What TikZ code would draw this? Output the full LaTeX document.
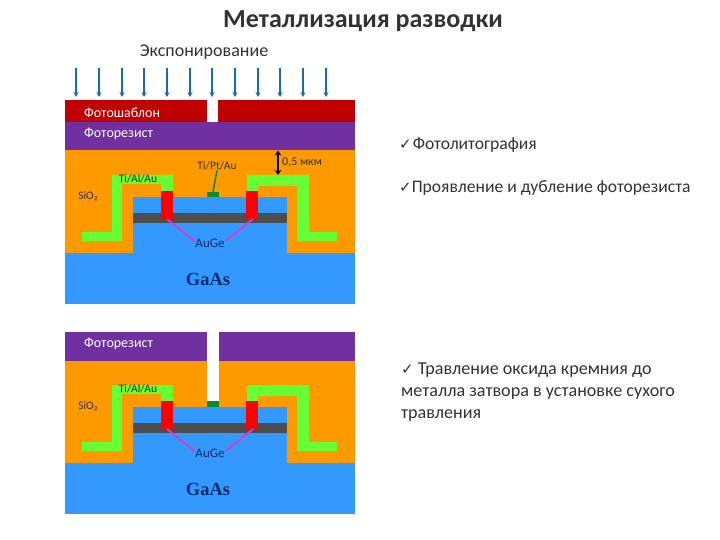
\documentclass[tikz,border=0pt]{standalone}
\usepackage{fontspec}
\usetikzlibrary{arrows.meta}
\setmainfont{Carlito}
\newfontfamily\chkfont{DejaVu Sans}
\newfontfamily\gafont{Liberation Serif}
\definecolor{oxide}{HTML}{FF9900}
\definecolor{gaas}{HTML}{3399FF}
\definecolor{resist}{HTML}{7030A0}
\definecolor{maskred}{HTML}{C00000}
\definecolor{metal}{HTML}{66FF33}
\definecolor{gategreen}{HTML}{0B8A2E}
\definecolor{band}{HTML}{4D4D4D}
\definecolor{pinkline}{HTML}{D63FC0}
\definecolor{uvblue}{HTML}{1F6AA8}
\definecolor{darktext}{HTML}{333333}
\definecolor{navy}{HTML}{0B2A6B}
\newcommand{\chk}{{\chkfont\fontsize{15}{16}\selectfont\bfseries ✓}}
\tikzset{
  fillonly/.style={fill=#1,draw=none},
  lbl/.style={inner sep=0pt,font=\fontsize{11.5}{13}\selectfont,text=darktext},
  wlbl/.style={inner sep=0pt,font=\fontsize{14}{16}\selectfont,text=white},
  body/.style={inner sep=0pt,font=\fontsize{17.6}{21.5}\selectfont,text=darktext,align=left,anchor=west},
  ga/.style={inner sep=0pt,font=\gafont\fontsize{18.5}{20}\selectfont\bfseries,text=navy},
  uv/.style={draw=uvblue,line width=1.4pt,-{Stealth[length=5pt,width=5pt]}},
  leadp/.style={draw=pinkline,line width=1.8pt},
}
\newcommand{\devicepanel}{%
  \fill[oxide] (65,150.5) rectangle (355,253);
  \fill[gaas] (65,253) rectangle (355,304);
  \fill[gaas] (133,197) rectangle (287,253);
  \fill[band] (133,213) rectangle (287,223);
  \fill[metal] (82,232) -- (112,232) -- (112,175) -- (173,175) -- (173,191) -- (161,191) -- (161,184) -- (122,184) -- (122,241) -- (82,241) -- cycle;
  \fill[metal] (337,232) -- (309,232) -- (309,175) -- (247,175) -- (247,191) -- (258,191) -- (258,186) -- (297,186) -- (297,241) -- (337,241) -- cycle;
  \fill[red] (161,191) rectangle (173,220);
  \fill[red] (246,191) rectangle (258,220);
}
\begin{document}
\begin{tikzpicture}[x=1pt,y=-1pt]
\useasboundingbox (0,0) rectangle (720,540);
\fill[white] (0,0) rectangle (720,540);
\node[inner sep=0pt,font=\fontsize{26}{30}\selectfont\bfseries,text=darktext] (title) at (363,21) {Металлизация разводки};
\node[inner sep=0pt,font=\fontsize{18}{20}\selectfont,text=darktext] (expo) at (204,52) {Экспонирование};
\foreach \x [count=\i] in {76,99,122,144,167,190,212,235,258,280,303,326}{
  \coordinate (a\i) at (\x,68);
  \coordinate (b\i) at (\x,97);
  \draw[uv] (a\i) -- (b\i);
}
% top panel
\devicepanel
\fill[maskred] (65,100) rectangle (207,122);
\fill[maskred] (218,100) rectangle (355,122);
\fill[resist] (65,122) rectangle (355,150.5);
\node[wlbl,anchor=west] (mask) at (84,113) {Фотошаблон};
\node[wlbl,anchor=west] (pr1) at (84,134) {Фоторезист};
\node[fillonly=gategreen,minimum width=12pt,minimum height=5pt,inner sep=0pt] (gate1) at (213,194.5) {};
\node[lbl] (tipt) at (217,166) {Ti/Pt/Au};
\draw[draw=gategreen,line width=1.5pt] (tipt.south) -- (gate1.north);
\node[lbl] (tial1) at (138,179) {Ti/Al/Au};
\node[lbl] (sio1) at (88,196) {SiO₂};
\node[lbl,text=navy,font=\fontsize{13}{15}\selectfont] (auge1) at (210,243) {AuGe};
\coordinate (r1) at (167,219);
\coordinate (r2) at (253,219);
\draw[leadp] (auge1.west) ++(-1,-2) -- (r1);
\draw[leadp] (auge1.east) ++(1,-2) -- (r2);
\node[ga] (ga1) at (208,279.5) {GaAs};
\coordinate (t1) at (278,150.5);
\coordinate (t2) at (278,175);
\draw[black,line width=1.6pt,{Stealth[length=5pt,width=6.5pt]}-{Stealth[length=5pt,width=6.5pt]}] (t1) -- (t2);
\node[lbl,anchor=west,font=\fontsize{12}{14}\selectfont] (thick) at (282,162) {0,5 мкм};
% bottom panel
\begin{scope}[yshift=-210pt]
\devicepanel
\end{scope}
\fill[resist] (65,332) rectangle (207,361);
\fill[resist] (219,332) rectangle (355,361);
\fill[white] (207,361) rectangle (219,401);
\node[fillonly=gategreen,minimum width=12pt,minimum height=6pt,inner sep=0pt] (gate2) at (213,404) {};
\node[wlbl,anchor=west] (pr2) at (84,344) {Фоторезист};
\node[lbl] (tial2) at (138,389) {Ti/Al/Au};
\node[lbl] (sio2) at (88,406) {SiO₂};
\node[lbl,text=navy,font=\fontsize{13}{15}\selectfont] (auge2) at (210,453) {AuGe};
\coordinate (r3) at (167,429);
\coordinate (r4) at (253,429);
\draw[leadp] (auge2.west) ++(-1,-2) -- (r3);
\draw[leadp] (auge2.east) ++(1,-2) -- (r4);
\node[ga] (ga2) at (208,489.5) {GaAs};
% right text
\node[body] (t-a) at (399,145) {\chk\kern1pt Фотолитография};
\node[body] (t-b) at (399,188) {\chk Проявление и дубление фоторезиста};
\node[body,font=\fontsize{18.1}{22}\selectfont] (t-c) at (401,392) {\chk\ Травление оксида кремния до\\металла затвора в установке сухого\\травления};
\end{tikzpicture}
\end{document}
